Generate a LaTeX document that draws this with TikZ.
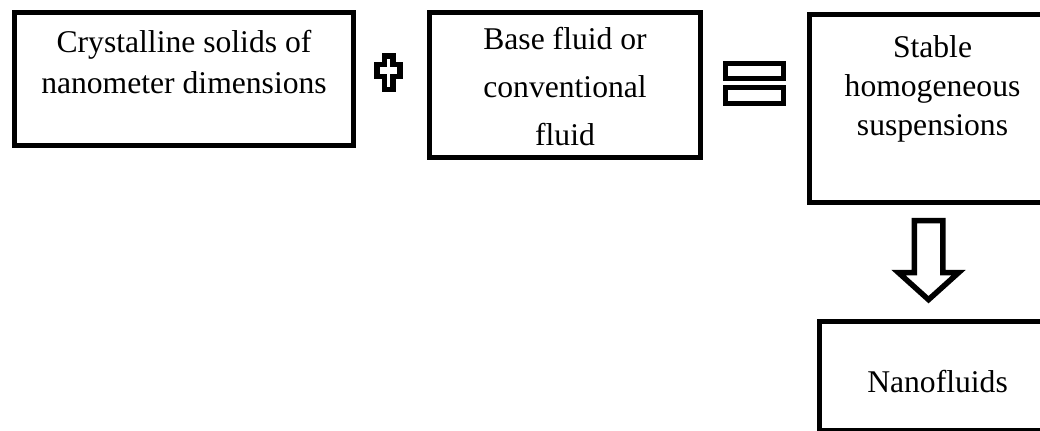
\documentclass[tikz,border=0pt]{standalone}
\usepackage{fontspec}
\setmainfont{Liberation Serif}
\usetikzlibrary{positioning}

\begin{document}
\begin{tikzpicture}[x=0.15mm, y=-0.15mm]
	\tikzstyle{Box} = [rectangle, draw=black, line width=0.75mm, inner sep=0pt, align=center, font=\fontsize{13.5}{6.15mm}\selectfont]
	\tikzstyle{Sign} = [draw=black, line width=0.82mm, fill=white]
	
	\useasboundingbox (0,0) rectangle (1040,430);
	
	\node (solids) [Box, minimum width=50.85mm, text height=12.15mm, text depth=7.8mm, anchor=north west] at (12,10) {Crystalline solids of\\nanometer dimensions};
	
	\node (baseFluid) [Box, minimum width=40.65mm, text height=19.95mm, text depth=1.8mm, font=\fontsize{13.5}{7.2mm}\selectfont, right = 10.65mm of solids.north east, anchor=north west] {Base fluid or\\conventional\\fluid};
	
	\node (suspension) [Box, minimum width=36.9mm, text height=18.15mm, text depth=10.05mm, font=\fontsize{13.5}{5.85mm}\selectfont, right = 15.6mm of baseFluid.north east, anchor=north west, yshift=-0.3mm] {Stable\\homogeneous\\suspensions};
	
	\node (nanofluids) [Box, minimum width=35.4mm, text height=10.65mm, text depth=5.7mm, below = 17.1mm of suspension.south east, anchor=north east] {Nanofluids};
	
	% plus and equals between the boxes
	\coordinate (plusSign) at ([xshift=4.9mm, yshift=0.95mm]solids.east);
	\coordinate (equalSign) at ([xshift=7.7mm, yshift=0.3mm]baseFluid.east);
	\coordinate (arrowTop) at ([xshift=-0.6mm, yshift=-2.35mm]suspension.south);
	
	\draw[Sign, shift={(plusSign)}] (-4.25,-16.6) -- (4.25,-16.6) -- (4.25,-8) -- (11.5,-8) -- (11.5,3.6) -- (4.25,3.6) -- (4.25,16.6) -- (-4.25,16.6) -- (-4.25,3.6) -- (-11.5,3.6) -- (-11.5,-8) -- (-4.25,-8) -- cycle;
	\draw[Sign, line width=0.75mm, shift={(equalSign)}] (-29,-20) rectangle (29,-5);
	\draw[Sign, line width=0.75mm, shift={(equalSign)}] (-29,4) rectangle (29,20);
	
	% block arrow down to the result
	\draw[Sign, shift={(arrowTop)}] (-14.25,0) -- (14.25,0) -- (14.25,52) -- (30,52) -- (0,79) -- (-30,52) -- (-14.25,52) -- cycle;
\end{tikzpicture}
\end{document}
